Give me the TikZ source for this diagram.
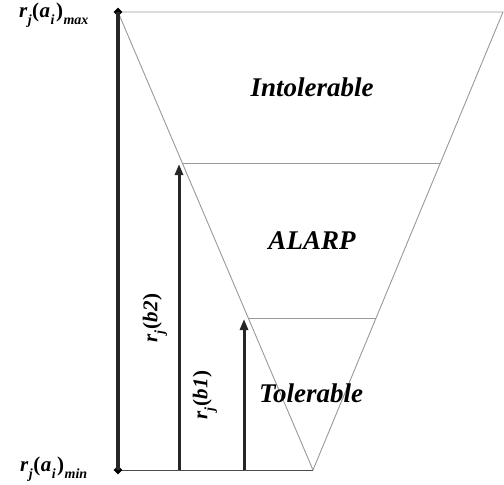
\documentclass[tikz,border=0pt]{standalone}
\usepackage{fontspec}
\newfontfamily\tnr{Liberation Serif}
\newcommand{\lsub}[1]{\kern0.5pt\raisebox{-0.32em}{\fontsize{14}{15}\selectfont #1}\kern0.5pt}
\newcommand{\lpo}{{\upshape(}\kern0.5pt}
\newcommand{\lpc}{\kern1pt{\upshape)}}
\usetikzlibrary{arrows.meta,shapes.geometric}
\begin{document}
\begin{tikzpicture}[x=1pt,y=-1pt,
  funnel/.style={draw=black!40,line width=0.9pt},
  axisline/.style={draw=black!85,line width=3.6pt},
  riskarrow/.style={draw=black!85,line width=3pt,-{Triangle[length=11pt,width=8pt]}},
  marker/.style={diamond,fill=black,inner sep=0pt,minimum size=9pt},
  zone/.style={font=\tnr\bfseries\itshape\fontsize{27}{30}\selectfont},
  lab/.style={font=\tnr\bfseries\itshape\fontsize{21}{24}\selectfont}]
\useasboundingbox (0,0) rectangle (504,485);
% funnel corners
\coordinate (TL) at (118,12);
\coordinate (TR) at (503,12);
\coordinate (AP) at (313,470);
\coordinate (BL) at (118,470);
\coordinate (L2) at (182,163);
\coordinate (R2) at (440,163);
\coordinate (L1) at (248,318);
\coordinate (R1) at (376,318);
\coordinate (B2) at (179,470);
\coordinate (T2) at (179,164);
\coordinate (B1) at (244,470);
\coordinate (T1) at (244,319);
% funnel
\draw[funnel] (TL) -- (TR) -- (AP) -- cycle;
\draw[funnel] (L2) -- (R2);
\draw[funnel] (L1) -- (R1);
\draw[draw=black!70,line width=1pt] (BL) -- (AP);
% axis
\node[marker] (dmax) at (TL) {};
\node[marker] (dmin) at (BL) {};
\draw[axisline] (dmax.center) -- (dmin.center);
\draw[riskarrow] (B2) -- (T2);
\draw[riskarrow] (B1) -- (T1);
% labels
\node[lab] (lmax) at (54,15) {r\lsub{j}\lpo a\lsub{i}\lpc\lsub{max}};
\node[lab] (lmin) at (54,469) {r\lsub{j}\lpo a\lsub{i}\lpc\lsub{min}};
\node[lab,rotate=90] (lb2) at (155,318) {r\lsub{j}\lpo b2\lpc};
\node[lab,rotate=90] (lb1) at (205,395) {r\lsub{j}\lpo b1\lpc};
\node[zone] (zi) at (312,87) {Intolerable};
\node[zone] (za) at (312,241) {ALARP};
\node[zone] (zt) at (311,393) {Tolerable};
\end{tikzpicture}
\end{document}
